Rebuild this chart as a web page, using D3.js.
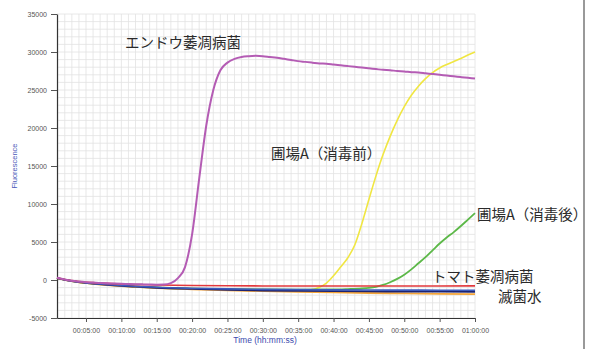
<!DOCTYPE html>
<html>
<head>
<meta charset="utf-8">
<script src="https://cdn.jsdelivr.net/npm/d3@7"></script>
<style>
  html, body { margin: 0; padding: 0; background: #fff; }
  svg { display: block; }
</style>
</head>
<body>
<svg id="chart" width="593" height="349"></svg>
<script>
// Time axis in minutes; fluorescence in arbitrary units
const xTickMinutes = [5, 10, 15, 20, 25, 30, 35, 40, 45, 50, 55, 60];
const yTickValues = [-5000, 0, 5000, 10000, 15000, 20000, 25000, 30000, 35000];

// Pea wilt pathogen (エンドウ萎凋病菌): one reading per minute
const peaTimes = [0.9, 2, 3, 4, 5, 6, 7, 8, 9, 10, 11, 12, 13, 14, 15, 16, 17, 18, 19, 20,
  21, 22, 23, 24, 25, 26, 27, 28, 29, 30, 31, 32, 33, 34, 35, 36, 37, 38, 39, 40,
  41, 42, 43, 44, 45, 46, 47, 48, 49, 50, 51, 52, 53, 54, 55, 56, 57, 58, 59, 60];
const peaValues = [300, 60, -100, -200, -280, -340, -390, -430, -470, -500, -530, -555, -575, -595, -610, -600, -420, 250, 1700, 6000,
  13300, 20300, 25000, 27600, 28600, 29100, 29350, 29450, 29500, 29450, 29350, 29250, 29100, 28950, 28800, 28700, 28600, 28500, 28450, 28350,
  28250, 28150, 28050, 27950, 27850, 27750, 27650, 27600, 27500, 27450, 27350, 27300, 27200, 27100, 27000, 26900, 26800, 26700, 26600, 26500];

// Field A before disinfection (圃場A（消毒前）)
const fieldBeforeTimes = [0.9, 3, 6, 10, 15, 20, 25, 30, 34, 36, 37, 38, 39, 40, 41, 42, 43, 44, 45, 46,
  47, 48, 49, 50, 51, 52, 53, 54, 55, 56, 57, 58, 59, 60];
const fieldBeforeValues = [260, -130, -470, -700, -960, -1120, -1220, -1280, -1320, -1320, -1250, -950, -400, 550, 1700, 2900, 4600, 7400, 10600, 13700,
  16500, 18900, 21000, 22800, 24300, 25500, 26500, 27300, 27900, 28350, 28750, 29150, 29600, 30000];

// Field A after disinfection (圃場A（消毒後）)
const fieldAfterTimes = [0.9, 3, 6, 10, 15, 20, 25, 30, 35, 40, 42, 44, 45, 46, 47, 48, 49, 50, 51, 52,
  53, 54, 55, 56, 57, 58, 59, 60];
const fieldAfterValues = [250, -140, -480, -760, -1020, -1150, -1220, -1250, -1260, -1250, -1200, -1120, -1040, -900, -650, -300, 150, 700, 1400, 2200,
  3000, 3900, 4800, 5600, 6300, 7100, 7950, 8800];

// Flat traces: tomato wilt pathogen and sterile water controls
const flatTimes = [0.9, 2, 3, 4, 6, 8, 10, 12, 15, 20, 25, 30, 35, 40, 45, 50, 55, 60];
const tomatoValues = [280, 60, -80, -200, -350, -450, -530, -590, -650, -720, -760, -780, -790, -795, -790, -785, -780, -770];
const blueValues = [260, 30, -120, -260, -450, -600, -720, -820, -950, -1080, -1170, -1230, -1270, -1300, -1320, -1330, -1340, -1350];
const navyValues = [250, 20, -140, -280, -480, -640, -770, -880, -1020, -1180, -1300, -1380, -1430, -1470, -1500, -1520, -1540, -1550];
const waterValues = [240, 10, -150, -300, -500, -670, -800, -910, -1050, -1220, -1360, -1470, -1560, -1640, -1710, -1770, -1820, -1850];

const series = [
  { times: fieldBeforeTimes, values: fieldBeforeValues, color: "#f0e642", width: 1.6 },
  { times: fieldAfterTimes, values: fieldAfterValues, color: "#5cb848", width: 1.8 },
  { times: flatTimes, values: waterValues, color: "#f4a53a", width: 1.8 },
  { times: flatTimes, values: navyValues, color: "#1d2371", width: 1.8 },
  { times: flatTimes, values: blueValues, color: "#3d5bbd", width: 1.6 },
  { times: flatTimes, values: tomatoValues, color: "#e2383c", width: 1.6 },
  { times: peaTimes, values: peaValues, color: "#b45cb4", width: 2 }
];

const labels = [
  { text: "エンドウ萎凋病菌", x: 125, y: 48 },
  { text: "圃場A（消毒前）", x: 271, y: 159 },
  { text: "圃場A（消毒後）", x: 477, y: 220 },
  { text: "トマト萎凋病菌", x: 432, y: 282 },
  { text: "滅菌水", x: 498, y: 302 }
];

const svg = d3.select("#chart");
const plotLeft = 57, plotRight = 475, plotTop = 14, plotBottom = 318;

const x = d3.scaleLinear().domain([0.9, 60]).range([plotLeft, plotRight]);
const y = d3.scaleLinear().domain([-5000, 35000]).range([plotBottom, plotTop]);

// grid
const grid = svg.append("g").attr("stroke", "#e2e2e2").attr("stroke-width", 0.8);
grid.selectAll("line.h").data(d3.range(-5000, 35001, 1000)).join("line").attr("class", "h")
  .attr("x1", plotLeft).attr("x2", plotRight)
  .attr("y1", d => y(d)).attr("y2", d => y(d));
grid.selectAll("line.v").data(d3.range(1, 61, 1)).join("line").attr("class", "v")
  .attr("x1", d => x(d)).attr("x2", d => x(d))
  .attr("y1", plotTop).attr("y2", plotBottom);

// axes
const fmt = m => {
  const h = Math.floor(m / 60), mm = m % 60;
  return `${String(h).padStart(2, "0")}:${String(mm).padStart(2, "0")}:00`;
};
const xAxis = svg.append("g").attr("transform", `translate(0,${plotBottom})`)
  .call(d3.axisBottom(x).tickValues(xTickMinutes).tickFormat(fmt).tickSize(4).tickSizeOuter(0));
const yAxis = svg.append("g").attr("transform", `translate(${plotLeft},0)`)
  .call(d3.axisLeft(y).tickValues(yTickValues).tickFormat(d => d).tickSize(6).tickSizeOuter(0));
[xAxis, yAxis].forEach(a => {
  a.select(".domain").attr("stroke", "#333").attr("stroke-width", 1.2);
  a.selectAll(".tick line").attr("stroke", "#555");
  a.selectAll(".tick text").attr("fill", "#555").attr("font-size", 7)
    .attr("font-family", "Liberation Sans, Arial, sans-serif");
});
xAxis.selectAll(".tick text").attr("dy", "1.2em");
yAxis.selectAll(".tick text").attr("dx", "-1");

// data lines
const line = d3.line().x(d => x(d[0])).y(d => y(d[1])).curve(d3.curveMonotoneX);
svg.append("g").selectAll("path").data(series).join("path")
  .attr("d", s => line(s.times.map((t, i) => [t, s.values[i]])))
  .attr("fill", "none")
  .attr("stroke", s => s.color)
  .attr("stroke-width", s => s.width)
  .attr("stroke-linejoin", "round");

// axis titles
svg.append("text").attr("x", 265).attr("y", 343).attr("text-anchor", "middle")
  .attr("font-size", 8.5).attr("fill", "#3b49ad")
  .attr("font-family", "Liberation Sans, Arial, sans-serif")
  .text("Time (hh:mm:ss)");
svg.append("text").attr("transform", "translate(17,166) rotate(-90)")
  .attr("text-anchor", "middle").attr("font-size", 7.5).attr("fill", "#4a58b8")
  .attr("font-family", "Liberation Sans, Arial, sans-serif")
  .text("Fluorescence");

// series annotations
svg.append("g").selectAll("text").data(labels).join("text")
  .attr("x", d => d.x).attr("y", d => d.y)
  .attr("font-size", 14.5).attr("fill", "#2a2a2a")
  .attr("font-family", "Noto Sans CJK JP, sans-serif")
  .text(d => d.text);

// frame edge on the right
svg.append("line").attr("x1", 584).attr("x2", 584).attr("y1", 0).attr("y2", 349)
  .attr("stroke", "#777").attr("stroke-width", 1.5);
</script>
</body>
</html>
